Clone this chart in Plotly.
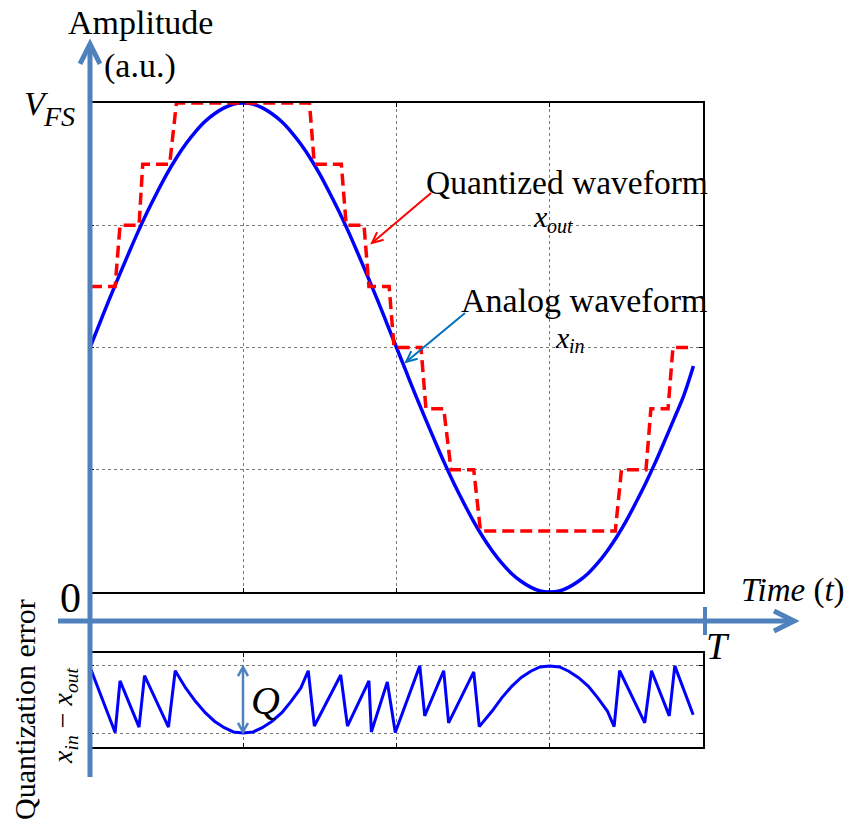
import plotly.graph_objects as go

# time axis in units of the period T
t_in = [k / 64 for k in range(64)]
# analog waveform x_in (fraction of V_FS)
x_in = [0.500, 0.549, 0.598, 0.645, 0.691, 0.736, 0.778, 0.817,
        0.854, 0.887, 0.916, 0.941, 0.962, 0.978, 0.990, 0.998,
        1.000, 0.998, 0.990, 0.978, 0.962, 0.941, 0.916, 0.887,
        0.854, 0.817, 0.778, 0.736, 0.691, 0.645, 0.598, 0.549,
        0.500, 0.451, 0.402, 0.355, 0.309, 0.264, 0.222, 0.183,
        0.146, 0.113, 0.084, 0.059, 0.038, 0.022, 0.010, 0.002,
        0.000, 0.002, 0.010, 0.022, 0.038, 0.059, 0.084, 0.113,
        0.146, 0.183, 0.222, 0.264, 0.309, 0.355, 0.402, 0.462]

# quantized waveform x_out (staircase corners)
t_out = [0.000, 0.041, 0.049, 0.080, 0.086, 0.130, 0.141, 0.358,
         0.366, 0.410, 0.418, 0.447, 0.455, 0.488, 0.496, 0.540,
         0.548, 0.577, 0.589, 0.626, 0.637, 0.857, 0.867, 0.907,
         0.915, 0.943, 0.951, 0.984]
x_out = [0.625, 0.625, 0.750, 0.750, 0.875, 0.875, 1.000, 1.000,
         0.875, 0.875, 0.750, 0.750, 0.625, 0.625, 0.500, 0.500,
         0.375, 0.375, 0.250, 0.250, 0.125, 0.125, 0.250, 0.250,
         0.375, 0.375, 0.500, 0.500]

# quantization error (shown as 0..Q)
Q = 0.125
t_err = [0.000, 0.041, 0.049, 0.080, 0.089, 0.128, 0.139, 0.156,
         0.172, 0.188, 0.203, 0.219, 0.234, 0.250, 0.266, 0.281,
         0.297, 0.313, 0.328, 0.344, 0.356, 0.366, 0.409, 0.420,
         0.455, 0.459, 0.485, 0.498, 0.538, 0.546, 0.577, 0.585,
         0.626, 0.635, 0.656, 0.672, 0.688, 0.703, 0.719, 0.734,
         0.750, 0.766, 0.781, 0.797, 0.813, 0.828, 0.844, 0.855,
         0.864, 0.905, 0.916, 0.945, 0.954, 0.984]
err = [0.123, 0.001, 0.097, 0.011, 0.107, 0.011, 0.116, 0.084,
       0.059, 0.038, 0.022, 0.010, 0.002, 0.000, 0.002, 0.010,
       0.022, 0.038, 0.059, 0.084, 0.116, 0.013, 0.108, 0.013,
       0.097, 0.002, 0.095, 0.001, 0.125, 0.032, 0.116, 0.019,
       0.114, 0.012, 0.041, 0.066, 0.087, 0.103, 0.115, 0.123,
       0.125, 0.123, 0.115, 0.103, 0.087, 0.066, 0.041, 0.012,
       0.116, 0.019, 0.116, 0.032, 0.125, 0.034]

grid_t = [0.25, 0.5, 0.75]
grid_a = [0.25, 0.5, 0.75]

FONT = "Liberation Serif"
AXBLUE = "#4F81BD"

# pixel frame of the figure
L, R, TOP, BOT = 90, 703, 103, 747


def px(x):
    return (x - L) / (R - L)


def py(y):
    return (BOT - y) / (BOT - TOP)


def seg(x0, y0, x1, y1, color, width):
    return dict(type="line", xref="paper", yref="paper",
                x0=px(x0), y0=py(y0), x1=px(x1), y1=py(y1),
                line=dict(color=color, width=width), layer="above")


def head(xt, yt, xf, yf, color, width, length, half):
    # open chevron at (xt, yt), shaft coming from (xf, yf)
    dx, dy = xf - xt, yf - yt
    n = (dx * dx + dy * dy) ** 0.5
    ux, uy = dx / n, dy / n
    bx, by = xt + ux * length, yt + uy * length
    w1 = (bx - uy * half, by + ux * half)
    w2 = (bx + uy * half, by - ux * half)
    path = "M {:.4f},{:.4f} L {:.4f},{:.4f} L {:.4f},{:.4f}".format(
        px(w1[0]), py(w1[1]), px(xt), py(yt), px(w2[0]), py(w2[1]))
    return dict(type="path", xref="paper", yref="paper", path=path,
                line=dict(color=color, width=width), layer="above")


def arrow(x0, y0, x1, y1, color, width, length, half):
    return [seg(x0, y0, x1, y1, color, width),
            head(x1, y1, x0, y0, color, width, length, half)]


def label(text, x, y, size, xanchor="left", yanchor="middle", angle=0, color="black"):
    return dict(text=text, xref="paper", yref="paper", x=px(x), y=py(y),
                xanchor=xanchor, yanchor=yanchor, showarrow=False,
                textangle=angle, font=dict(family=FONT, size=size, color=color))


fig = go.Figure()
fig.add_trace(go.Scatter(x=t_in, y=x_in, mode="lines", line_shape="spline",
                         line=dict(color="#0000FF", width=3.5),
                         cliponaxis=False, showlegend=False))
fig.add_trace(go.Scatter(x=t_out, y=x_out, mode="lines",
                         line=dict(color="#FF0000", width=3.5, dash="12px,6px"),
                         cliponaxis=False, showlegend=False))
fig.add_trace(go.Scatter(x=t_err, y=err, mode="lines", xaxis="x2", yaxis="y2",
                         line=dict(color="#0000FF", width=3),
                         cliponaxis=False, showlegend=False))

box = dict(showline=True, mirror="ticks", linecolor="black", linewidth=1.5,
           ticks="inside", ticklen=4, tickcolor="black", showticklabels=False,
           showgrid=True, griddash="dot", gridcolor="#7a7a7a", gridwidth=1,
           zeroline=False)

split = py(592)
fig.update_layout(
    width=850, height=828, autosize=False,
    margin=dict(l=L, r=850 - R, t=TOP, b=828 - BOT),
    paper_bgcolor="white", plot_bgcolor="white",
    xaxis=dict(box, domain=[0, 1], range=[0, 1], tickvals=grid_t, anchor="y"),
    yaxis=dict(box, domain=[split, 1], range=[0, 1], tickvals=grid_a, anchor="x"),
    xaxis2=dict(box, domain=[0, 1], range=[0, 1], tickvals=grid_t, anchor="y2"),
    yaxis2=dict(box, domain=[0, py(653)], range=[-0.026, 0.149],
                tickvals=[0, Q], anchor="x2"),
)

shapes = []
# big amplitude / time axes
shapes += arrow(90, 777, 90, 44, AXBLUE, 5, 20, 10)
shapes += arrow(58, 621, 794, 621, AXBLUE, 5, 20, 10)
shapes.append(seg(705, 607, 705, 635, AXBLUE, 4))
# Q double arrow
shapes += arrow(243, 700, 243, 667, AXBLUE, 2.5, 9, 5)
shapes += arrow(243, 700, 243, 732, AXBLUE, 2.5, 9, 5)
# callout arrows
shapes += arrow(431, 193, 372, 243, "#FF0000", 2, 11, 5)
shapes += arrow(465, 313, 406, 362, "#0070C0", 2, 11, 5)
fig.update_layout(shapes=shapes)

ann = [
    label("Amplitude", 66, 22, 34),
    label("(a.u.)", 102, 66, 34),
    label("<i>V</i>", 22, 103, 34),
    label("<i>FS</i>", 41, 117, 28),
    label("0", 83, 598, 42, xanchor="right"),
    label("<i>Time</i> (<i>t</i>)", 739, 590, 33),
    label("<i>T</i>", 704, 646, 38),
    label("<i>Q</i>", 249, 700, 40),
    label("Quantized waveform", 424, 182, 33.5),
    label("<i>x</i>", 531, 217, 30),
    label("<i>out</i>", 545, 226, 20),
    label("Analog waveform", 459, 300, 34),
    label("<i>x</i>", 553, 337, 30),
    label("<i>in</i>", 567, 346, 20),
    label("Quantization error", 24, 710, 30, xanchor="center", angle=-90),
    label("<i>x</i><sub><i>in</i></sub> \u2212 <i>x</i><sub><i>out</i></sub>",
          64, 716, 28, xanchor="center", angle=-90),
]
fig.update_layout(annotations=ann)

fig.write_html("out.html", config={"displayModeBar": False},
               post_script="document.body.style.margin = '0';")
